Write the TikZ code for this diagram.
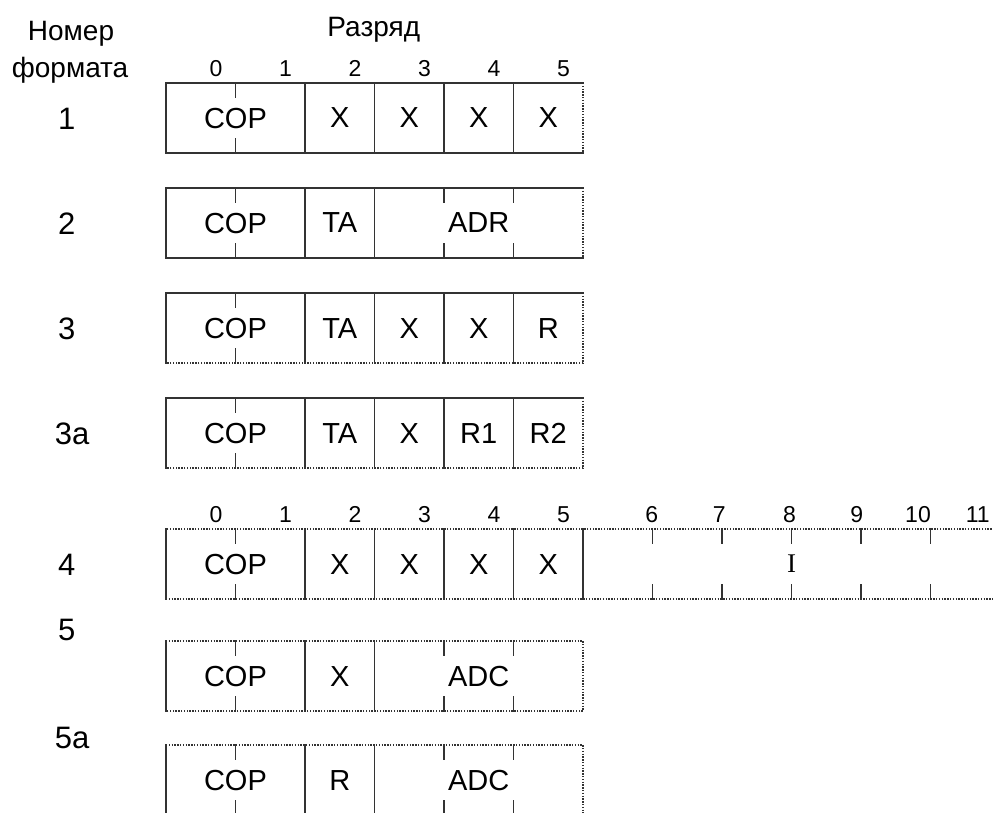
\documentclass[tikz,border=0pt]{standalone}
\usepackage{fontspec}
\setmainfont{Liberation Sans}
\newfontfamily\serifI{Liberation Serif}
\tikzstyle{edge}=[line width=1.6pt, black!80, line cap=rect]
\tikzstyle{rough}=[line width=1.6pt, black!80, dash pattern=on 1.4pt off 1.4pt]
\tikzstyle{field}=[font=\fontsize{29}{32}\selectfont, inner sep=0pt, text depth=0pt]
\tikzstyle{bitno}=[font=\fontsize{23}{26}\selectfont, inner sep=0pt, anchor=base]
\tikzstyle{head}=[font=\fontsize{28}{30}\selectfont, inner sep=0pt, anchor=base]
\tikzstyle{rowno}=[font=\fontsize{31}{34}\selectfont, inner sep=0pt, text depth=0pt]

\begin{document}
\begin{tikzpicture}[x=69.5pt, y=-1pt]
				\useasboundingbox (-2.388,0) rectangle (11.899,812);

				% headings
				\node[head] (nomer) at (-1.366,40) {Номер};
				\node[head] (formata) at (-1.38,77) {формата};
				\node[head] (razryad) at (2.99,36) {Разряд};
				\foreach \i in {0,...,5}
					\node[bitno] (d\i) at (\i+0.72,76) {\i};

				% format 1
				\node[rowno] (n1) at (-1.427,119) {1};
				\draw[edge] (6,153) -- (0,153) -- (0,83) -- (6,83);
				\draw[rough] (6,83) -- (6,153);
				\foreach \k in {2,...,5}
					\draw[edge] (\k,83) -- (\k,153);
				\draw[edge] (1,83) -- (1,97);
				\draw[edge] (1,139) -- (1,153);
				\node[field] (cop1) at (1,118) {COP};
				\node[field] (x12) at (2.5,118) {X};
				\node[field] (x13) at (3.5,118) {X};
				\node[field] (x14) at (4.5,118) {X};
				\node[field] (x15) at (5.5,118) {X};

				% format 2
				\node[rowno] (n2) at (-1.427,224) {2};
				\draw[edge] (6,258) -- (0,258) -- (0,188) -- (6,188);
				\draw[rough] (6,188) -- (6,258);
				\draw[edge] (2,188) -- (2,258);
				\draw[edge] (3,188) -- (3,258);
				\foreach \k in {1,4,5} {
					\draw[edge] (\k,188) -- (\k,202);
					\draw[edge] (\k,244) -- (\k,258);
				}
				\node[field] (cop2) at (1,223) {COP};
				\node[field] (ta2) at (2.5,223) {TA};
				\node[field] (adr2) at (4.5,223) {ADR};

				% format 3
				\node[rowno] (n3) at (-1.427,329) {3};
				\draw[edge] (0,363) -- (0,293) -- (6,293);
				\draw[rough] (6,293) -- (6,363) -- (0,363);
				\foreach \k in {2,...,5}
					\draw[edge] (\k,293) -- (\k,363);
				\draw[edge] (1,293) -- (1,307);
				\draw[edge] (1,349) -- (1,363);
				\node[field] (cop3) at (1,328) {COP};
				\node[field] (ta3) at (2.5,328) {TA};
				\node[field] (x33) at (3.5,328) {X};
				\node[field] (x34) at (4.5,328) {X};
				\node[field] (r3) at (5.5,328) {R};

				% format 3a
				\node[rowno] (n3a) at (-1.35,434) {3a};
				\draw[edge] (0,468) -- (0,398) -- (6,398);
				\draw[rough] (6,398) -- (6,468) -- (0,468);
				\foreach \k in {2,...,5}
					\draw[edge] (\k,398) -- (\k,468);
				\draw[edge] (1,398) -- (1,412);
				\draw[edge] (1,454) -- (1,468);
				\node[field] (cop3a) at (1,433) {COP};
				\node[field] (ta3a) at (2.5,433) {TA};
				\node[field] (x3a) at (3.5,433) {X};
				\node[field] (ra) at (4.5,433) {R1};
				\node[field] (rb) at (5.5,433) {R2};

				% format 4
				\foreach \i in {0,...,5}
					\node[bitno] (e\i) at (\i+0.72,522) {\i};
				\foreach \i/\xx in {6/6.99,7/7.96,8/8.97,9/9.94,10/10.82,11/11.68}
					\node[bitno] (e\i) at (\xx,522) {\i};
				\node[rowno] (n4) at (-1.427,565) {4};
				\draw[rough] (12,529) -- (0,529);
				\draw[rough] (0,599) -- (12,599);
				\foreach \k in {0,2,3,4,5,6}
					\draw[edge] (\k,529) -- (\k,599);
				\foreach \k in {1,7,8,9,10,11} {
					\draw[edge] (\k,529) -- (\k,543);
					\draw[edge] (\k,585) -- (\k,599);
				}
				\node[field] (cop4) at (1,564) {COP};
				\node[field] (x42) at (2.5,564) {X};
				\node[field] (x43) at (3.5,564) {X};
				\node[field] (x44) at (4.5,564) {X};
				\node[field] (x45) at (5.5,564) {X};
				\node[field, font=\fontsize{27}{30}\selectfont\serifI] (imm) at (9,564) {I};

				% format 5
				\node[rowno] (n5) at (-1.427,630) {5};
				\draw[edge] (0,641) -- (0,711);
				\draw[rough] (0,641) -- (6,641) -- (6,711) -- (0,711);
				\draw[edge] (2,641) -- (2,711);
				\draw[edge] (3,641) -- (3,711);
				\foreach \k in {1,4,5} {
					\draw[edge] (\k,641) -- (\k,655);
					\draw[edge] (\k,697) -- (\k,711);
				}
				\node[field] (cop5) at (1,676) {COP};
				\node[field] (x5) at (2.5,676) {X};
				\node[field] (adc5) at (4.5,676) {ADC};

				% format 5a
				\node[rowno] (n5a) at (-1.35,738) {5a};
				\draw[edge] (0,745) -- (0,815);
				\draw[rough] (0,745) -- (6,745) -- (6,815);
				\draw[edge] (2,745) -- (2,815);
				\draw[edge] (3,745) -- (3,815);
				\foreach \k in {1,4,5} {
					\draw[edge] (\k,745) -- (\k,759);
					\draw[edge] (\k,801) -- (\k,815);
				}
				\node[field] (cop5a) at (1,780) {COP};
				\node[field] (r5a) at (2.5,780) {R};
				\node[field] (adc5a) at (4.5,780) {ADC};
			\end{tikzpicture}
\end{document}
